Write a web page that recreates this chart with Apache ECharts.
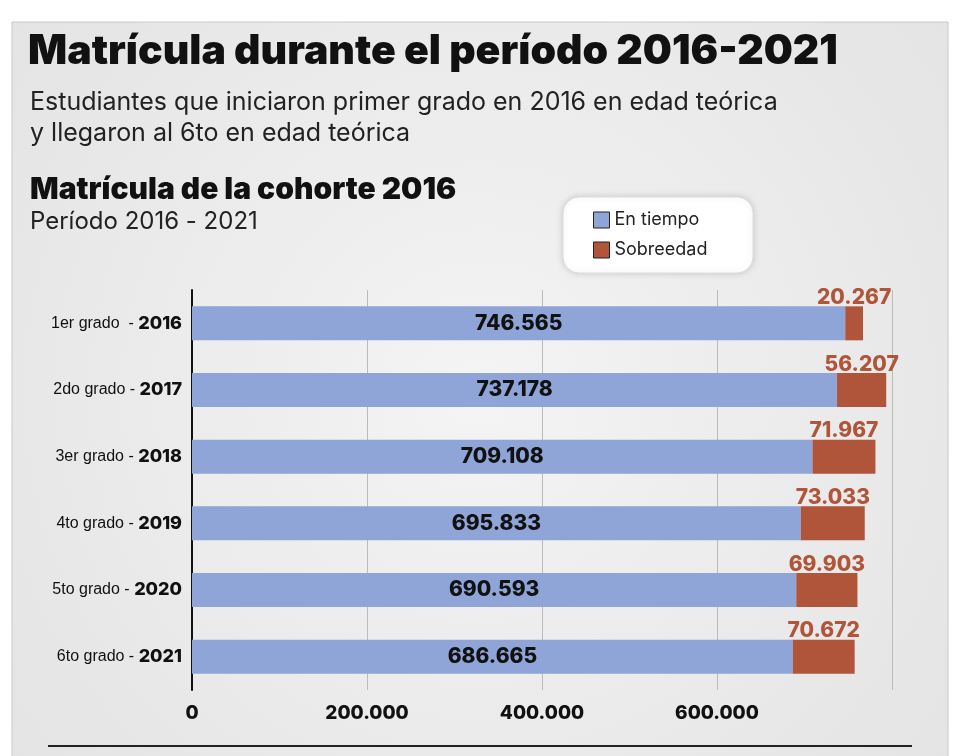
<!DOCTYPE html>
<html><head><meta charset="utf-8">
<script src="https://cdn.jsdelivr.net/npm/echarts@6/dist/echarts.min.js"></script>
<style>html,body{margin:0;padding:0;background:#fff}#c{width:960px;height:756px}</style>
</head><body><div id="c"></div>
<script>
var grados = ['1er grado  - ', '2do grado - ', '3er grado - ', '4to grado - ', '5to grado - ', '6to grado - '];
var anios = ['2016', '2017', '2018', '2019', '2020', '2021'];
var enTiempo = [746565, 737178, 709108, 695833, 690593, 686665];
var sobreedad = [20267, 56207, 71967, 73033, 69903, 70672];
var ticks = [0, 200000, 400000, 600000, 800000];

function fmt(v) { return String(v).replace(/\B(?=(\d{3})+(?!\d))/g, '.'); }
var cats = grados.map(function (g, i) { return g + '|' + anios[i]; });

var chart = echarts.init(document.getElementById('c'));
chart.setOption({
    backgroundColor: '#fff',
    graphic: [
        {type: 'rect', shape: {x: 12, y: 22, width: 936, height: 740}, z: -10,
         style: {fill: new echarts.graphic.RadialGradient(0.5, 0.5, 0.8, [{offset: 0, color: '#f4f4f4'}, {offset: 1, color: '#e4e4e4'}]), stroke: '#c8c8c8', lineWidth: 1}},
        {type: 'line', shape: {x1: 48, y1: 746, x2: 912, y2: 746}, style: {stroke: '#222', lineWidth: 2}},
        {type: 'text', left: 28, top: 31, style: {text: 'Matrícula durante el período 2016-2021', font: '900 41px Inter, "DejaVu Sans"', fill: '#111'}},
        {type: 'text', left: 30, top: 87, style: {text: 'Estudiantes que iniciaron primer grado en 2016 en edad teórica\ny llegaron al 6to en edad teórica', font: '400 25px Inter, "DejaVu Sans"', fill: '#222', lineHeight: 31}},
        {type: 'text', left: 30, top: 175, style: {text: 'Matrícula de la cohorte 2016', font: '900 30px Inter, "DejaVu Sans"', fill: '#111'}},
        {type: 'text', left: 30, top: 210, style: {text: 'Período 2016 - 2021', font: '400 24px Inter, "DejaVu Sans"', fill: '#222'}},
        {type: 'rect', shape: {x: 563, y: 197, width: 190, height: 76, r: 16}, z: 0,
         style: {fill: '#fff', stroke: '#ddd', shadowBlur: 6, shadowColor: 'rgba(0,0,0,0.15)'}}
    ],
    legend: {
        orient: 'vertical', left: 588, top: 206, itemGap: 12, itemWidth: 16, itemHeight: 16, z: 5,
        icon: 'rect',
        textStyle: {fontFamily: 'Inter', fontSize: 18, color: '#222'},
        data: [{name: 'En tiempo', itemStyle: {borderColor: '#222', borderWidth: 1}}, {name: 'Sobreedad', itemStyle: {borderColor: '#222', borderWidth: 1}}]
    },
    grid: {left: 192, right: 68, top: 290, bottom: 66},
    xAxis: {
        type: 'value', min: 0, max: 800000, interval: 200000,
        axisLine: {show: false}, axisTick: {show: false},
        splitLine: {lineStyle: {color: '#bbb', width: 1}},
        axisLabel: {fontFamily: 'Inter', fontWeight: 800, fontSize: 19, color: '#111', margin: 14,
            formatter: function (v) { return v === 800000 ? '' : fmt(v); }}
    },
    yAxis: {
        type: 'category', inverse: true, data: cats,
        axisLine: {lineStyle: {color: '#111', width: 2}}, axisTick: {show: false},
        axisLabel: {
            margin: 10,
            formatter: function (v) { var p = v.split('|'); return '{a|' + p[0] + '}{b|' + p[1] + '}'; },
            rich: {
                a: {fontFamily: '"Liberation Sans Narrow", "Liberation Sans"', fontSize: 16, color: '#111'},
                b: {fontFamily: 'Inter', fontWeight: 800, fontSize: 18, color: '#111'}
            }
        }
    },
    series: [
        {name: 'En tiempo', type: 'bar', stack: 't', barWidth: 34, data: enTiempo,
         itemStyle: {color: '#8fa4d7'},
         label: {show: true, position: 'inside', formatter: function (p) { return fmt(p.value); },
                 fontFamily: 'Inter', fontWeight: 800, fontSize: 21, color: '#111'}},
        {name: 'Sobreedad', type: 'bar', stack: 't', barWidth: 34, data: sobreedad,
         itemStyle: {color: '#b0553a'},
         label: {show: true, position: 'top', distance: -2, formatter: function (p) { return fmt(p.value); },
                 fontFamily: 'Inter', fontWeight: 800, fontSize: 21, color: '#b0553a'}}
    ]
});
</script></body></html>
